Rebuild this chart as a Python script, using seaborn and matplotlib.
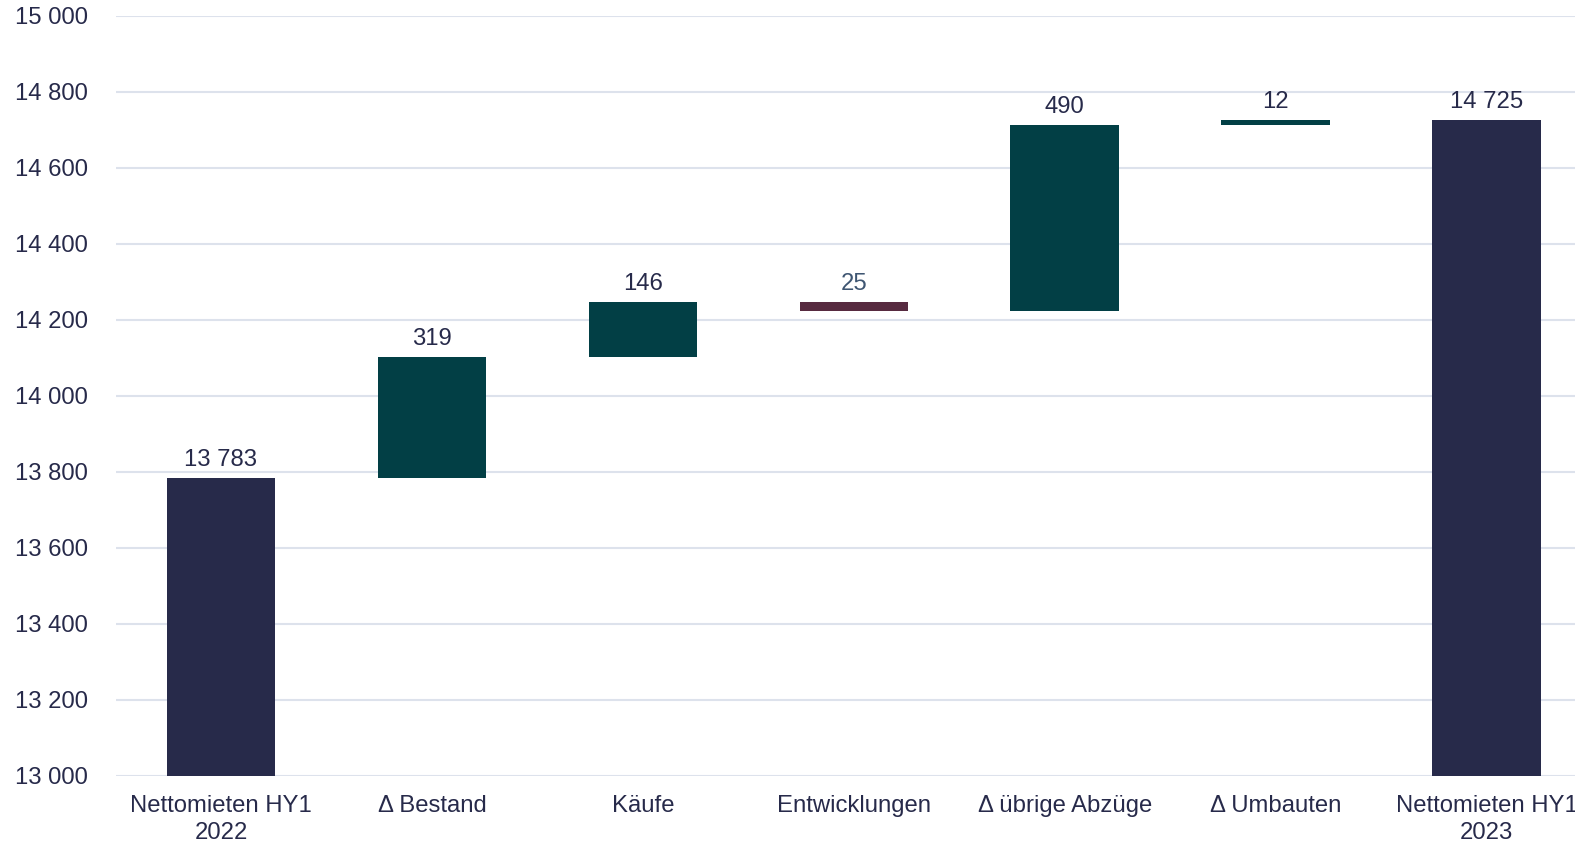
import matplotlib
matplotlib.use("Agg")
import matplotlib.pyplot as plt
import seaborn as sns
import numpy as np

categories = ["Nettomieten HY1\n2022", "Δ Bestand", "Käufe", "Entwicklungen",
              "Δ übrige Abzüge", "Δ Umbauten", "Nettomieten HY1\n2023"]
start_value = 13783
changes = [319, 146, -25, 490, 12]
end_value = 14725
value_labels = ["13 783", "319", "146", "25", "490", "12", "14 725"]
yticks = [13000, 13200, 13400, 13600, 13800, 14000, 14200, 14400, 14600, 14800, 15000]

# waterfall geometry from data
bottoms, heights = [0], [start_value]
level = start_value
for c in changes:
    if c >= 0:
        bottoms.append(level); heights.append(c)
    else:
        bottoms.append(level + c); heights.append(-c)
    level += c
bottoms.append(0); heights.append(end_value)
tops = [b + h for b, h in zip(bottoms, heights)]

NAVY = "#272A4A"
TEAL = "#023F45"
MAROON = "#572A40"
colors = [NAVY] + [TEAL if c >= 0 else MAROON for c in changes] + [NAVY]
label_colors = [NAVY] * 7
label_colors[3] = "#3F5672"
GRID = "#DDE2EC"
FS = 17.2

sns.set_theme(style="white")
plt.rcParams["font.family"] = ["Liberation Sans", "DejaVu Sans"]

fig = plt.figure(figsize=(15.75, 8.43), dpi=100)
left, right, top, bottom = 115.5, 1592, 16, 775.5
ax = fig.add_axes([left / 1575, (843 - bottom) / 843, (right - left) / 1575, (bottom - top) / 843])

sns.barplot(x=list(range(7)), y=heights, bottom=bottoms, color=NAVY,
            width=0.514, errorbar=None, ax=ax, zorder=3, linewidth=0)
for p, col in zip(ax.patches, colors):
    p.set_facecolor(col)
    p.set_edgecolor(col)

for i, (t, lab, lc) in enumerate(zip(tops, value_labels, label_colors)):
    ax.annotate(lab, xy=(i, t), xytext=(0, 5), textcoords="offset points",
                ha="center", va="bottom", fontsize=FS, color=lc, zorder=4)

ax.set_ylim(13000, 15000)
ax.set_xlim(-0.5, 6.5)
ax.set_yticks(yticks)
ax.set_yticklabels([f"{v:,}".replace(",", " ") for v in yticks])
ax.set_xticks(range(7))
ax.set_xticklabels(categories, linespacing=1.28)
ax.tick_params(axis="y", length=0, pad=20, labelsize=FS, labelcolor=NAVY)
ax.tick_params(axis="x", length=0, pad=14, labelsize=FS, labelcolor=NAVY)
ax.yaxis.grid(True, color=GRID, linewidth=1.5, zorder=0)
ax.set_axisbelow(True)
for s in ax.spines.values():
    s.set_visible(False)
ax.set_xlabel("")
ax.set_ylabel("")

fig.savefig("out.png", dpi=100)
